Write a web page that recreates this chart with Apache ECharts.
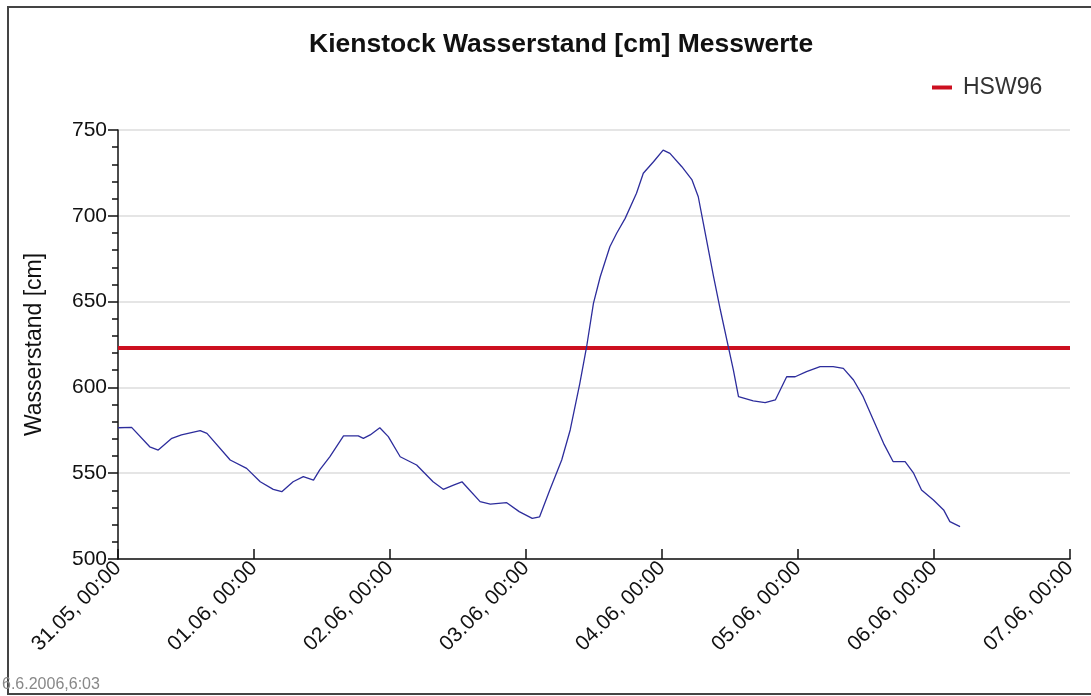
<!DOCTYPE html>
<html>
<head>
<meta charset="UTF-8"/>
<script src="https://cdn.jsdelivr.net/npm/echarts@6/dist/echarts.min.js"></script>
<style type="text/css">
	html, body { margin:0; padding:0; background:#fff; }
	#chart { width:1091px; height:696px; }
</style>
</head>
<body>
<div id="chart"></div>
<script type="text/javascript">

// Stunden seit 31.05. 00:00
var hours = [0, 2.4, 5.6, 7.1, 9.5, 11.2, 14.5, 15.7, 19.8, 22.7,
	25.1, 27.4, 28.9, 30.9, 32.7, 34.5, 35.6, 37.4, 39.8, 42.4,
	43.3, 44.5, 46.2, 47.7, 49.8, 52.7, 55.6, 57.4, 59.2, 60.7,
	61.5, 63.9, 65.7, 68.6, 70.8, 73.1, 74.4, 76.2, 78.3, 79.8,
	81.5, 82.7, 83.9, 85.1, 86.8, 88.0, 89.5, 91.5, 92.7, 94.5,
	96.2, 97.4, 99.5, 101.3, 102.4, 103.3, 105.1, 106.3, 107.7, 108.6,
	109.5, 112.1, 114.2, 116.0, 118.0, 119.5, 121.5, 123.9, 126.2, 128.0,
	129.8, 131.5, 133.3, 135.1, 136.8, 138.9, 140.4, 141.8, 143.9, 145.7,
	146.8, 148.6];
// Wasserstand [cm]
var levels = [576.5, 576.7, 565.4, 563.5, 570.3, 572.3, 574.8, 573.2, 557.7, 552.8,
	545.0, 540.6, 539.2, 545.0, 548.0, 546.0, 551.9, 559.6, 571.7, 571.7,
	570.3, 572.3, 576.5, 571.3, 559.6, 554.8, 545.0, 540.6, 543.1, 545.0,
	542.1, 533.4, 532.0, 532.8, 527.6, 523.7, 524.6, 540.2, 557.7, 575.2,
	602.4, 623.7, 649.0, 664.5, 682.0, 689.8, 698.5, 713.1, 724.8, 731.5,
	738.3, 736.4, 728.6, 720.9, 711.1, 695.6, 664.5, 645.1, 623.7, 610.1,
	594.6, 592.2, 591.1, 592.7, 606.2, 606.2, 609.2, 612.1, 612.1, 611.1,
	604.3, 594.6, 581.0, 567.4, 556.7, 556.7, 550.0, 540.2, 534.4, 528.6,
	521.8, 518.9];
var hsw96 = 623;
var hswRange = [0, 168];
var dayLabels = ['31.05, 00:00', '01.06, 00:00', '02.06, 00:00', '03.06, 00:00',
	'04.06, 00:00', '05.06, 00:00', '06.06, 00:00', '07.06, 00:00'];
var yTicks = [500, 550, 600, 650, 700, 750];

var font = '"Liberation Sans", Arial, sans-serif';

var messData = [];
for (var i = 0; i < hours.length; i++) {
	messData.push([hours[i], levels[i]]);
}
var hswData = [[hswRange[0], hsw96], [hswRange[1], hsw96]];

var myChart = echarts.init(document.getElementById('chart'));
var option = {
	backgroundColor: '#fff',
	animation: false,
	title: {
		text: 'Kienstock Wasserstand [cm] Messwerte',
		left: 304,
		top: 26,
		textStyle: { fontFamily: font, fontSize: 26.5, fontWeight: 'bold', color: '#111' }
	},
	legend: {
		data: ['HSW96'],
		left: 927,
		top: 71,
		icon: 'rect',
		itemWidth: 20,
		itemHeight: 4,
		itemGap: 20,
		textStyle: { fontFamily: font, fontSize: 23, color: '#333', padding: [0, 0, 0, 6] }
	},
	grid: { left: 118, right: 21, top: 130, bottom: 137, containLabel: false },
	xAxis: {
		type: 'value',
		min: 0,
		max: 168,
		interval: 24,
		axisLine: { lineStyle: { color: '#111', width: 1.5 } },
		axisTick: { inside: true, length: 10, lineStyle: { color: '#111', width: 1.5 } },
		splitLine: { show: false },
		axisLabel: {
			rotate: 45,
			margin: 6,
			fontFamily: font,
			fontSize: 21,
			color: '#111',
			formatter: function (v) { return dayLabels[Math.round(v / 24)]; }
		}
	},
	yAxis: {
		type: 'value',
		min: yTicks[0],
		max: yTicks[yTicks.length - 1],
		interval: 50,
		name: 'Wasserstand [cm]',
		nameLocation: 'middle',
		nameGap: 72,
		nameTextStyle: { fontFamily: font, fontSize: 23, color: '#111' },
		axisLine: { show: true, lineStyle: { color: '#111', width: 1.5 } },
		axisTick: { show: true, length: 10, lineStyle: { color: '#111', width: 1.5 } },
		minorTick: { show: true, splitNumber: 5, length: 6, lineStyle: { color: '#111', width: 1.5 } },
		splitLine: { show: true, lineStyle: { color: '#dcdcdc', width: 1.5 } },
		axisLabel: { margin: 11, fontFamily: font, fontSize: 21, color: '#111' }
	},
	series: [
		{
			name: 'Messwerte',
			type: 'line',
			data: messData,
			showSymbol: false,
			symbol: 'none',
			lineStyle: { color: '#2d2d9c', width: 1.3 },
			z: 3
		},
		{
			name: 'HSW96',
			type: 'line',
			data: hswData,
			showSymbol: false,
			symbol: 'none',
			itemStyle: { color: '#cc1020' },
			lineStyle: { color: '#cc1020', width: 4 },
			z: 2
		}
	],
	graphic: [
		{
			type: 'rect',
			shape: { x: 8, y: 7, width: 1100, height: 687 },
			style: { fill: 'none', stroke: '#444', lineWidth: 2 },
			silent: true
		},
		{
			type: 'text',
			left: 2,
			top: 677,
			style: { text: '6.6.2006,6:03', font: '16px "Liberation Sans", Arial, sans-serif', fill: '#888' }
		}
	]
};
myChart.setOption(option);
</script>
</body>
</html>
